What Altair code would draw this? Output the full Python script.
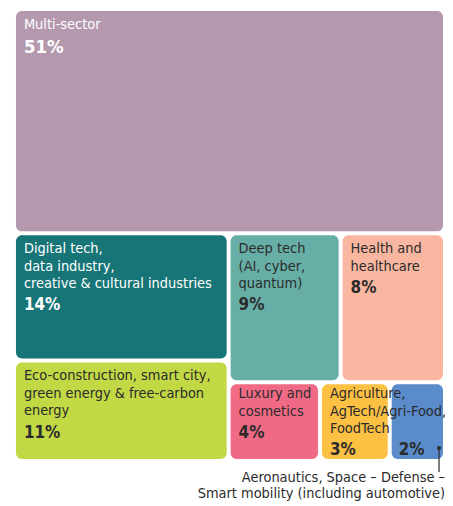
import altair as alt
import pandas as pd

# ---- data -------------------------------------------------------------
sectors = ["Multi-sector", "Digital tech", "Eco-construction", "Deep tech",
           "Health", "Luxury", "Agriculture", "Aeronautics"]
labels = [
    "Multi-sector",
    "Digital tech,\ndata industry,\ncreative & cultural industries",
    "Eco-construction, smart city,\ngreen energy & free-carbon\nenergy",
    "Deep tech\n(AI, cyber,\nquantum)",
    "Health and\nhealthcare",
    "Luxury and\ncosmetics",
    "Agriculture,\nAgTech/Agri-Food,\nFoodTech",
    "",
]
callout = "Aeronautics, Space \u2013 Defense \u2013\nSmart mobility (including automotive)"
shares = [51, 14, 11, 9, 8, 4, 3, 2]                    # labelled percentages
area = [51, 14.4, 11.4, 8.8, 8.2, 3.8, 2.9, 2.3]        # estimated unrounded shares (tile sizes)
colors = ["#b499ae", "#177577", "#c2d845", "#67aea6",
          "#f9b6a1", "#f06a85", "#fcc043", "#5a8bcb"]
light_text = ["Multi-sector", "Digital tech"]

# treemap structure: v = stacked top-to-bottom, h = side by side
structure = ("v", [0, ("h", [("v", [1, 2]),
                             ("v", [("h", [3, 4]), ("h", [5, 6, 7])])])])


def total(node):
    if isinstance(node, int):
        return area[node]
    return sum(total(k) for k in node[1])


def place(node, x0, y0, x1, y1, out):
    if isinstance(node, int):
        out[node] = (x0, y0, x1, y1)
        return
    direction, kids = node
    t = total(node)
    pos = y0 if direction == "v" else x0
    for k in kids:
        f = total(k) / t
        if direction == "v":
            step = f * (y1 - y0)
            place(k, x0, pos, x1, pos + step, out)
        else:
            step = f * (x1 - x0)
            place(k, pos, y0, pos + step, y1, out)
        pos += step


rects = {}
place(structure, 0.0, 0.0, 1.0, 1.0, rects)

df = pd.DataFrame({
    "sector": sectors,
    "label": labels,
    "share": shares,
    "x0": [rects[i][0] for i in range(len(sectors))],
    "y0": [rects[i][1] for i in range(len(sectors))],
    "x1": [rects[i][2] for i in range(len(sectors))],
    "y1": [rects[i][3] for i in range(len(sectors))],
})
df["nlines"] = [0 if s == "" else s.count("\n") + 1 for s in labels]
df["pct"] = [f"{v}%" for v in shares]

FONT = "DejaVu Sans Condensed, sans-serif"
DARK = "#2b2b2b"
PLOT_W, PLOT_H = 433, 454
LINE_H = 17.5

sx = alt.Scale(domain=[0, 1], nice=False, zero=False)
sy = alt.Scale(domain=[0, 1], nice=False, zero=False, reverse=True)

base = alt.Chart(df)

tiles = base.mark_rect(cornerRadius=6, xOffset=2, x2Offset=-2, yOffset=2, y2Offset=-2).encode(
    x=alt.X("x0:Q", scale=sx, axis=None), x2="x1:Q",
    y=alt.Y("y0:Q", scale=sy, axis=None), y2="y1:Q",
    color=alt.Color("sector:N", scale=alt.Scale(domain=sectors, range=colors), legend=None),
)

txt_color = alt.condition(alt.FieldOneOfPredicate(field="sector", oneOf=light_text),
                          alt.value("white"), alt.value(DARK))

# text anchors inside each tile (padding smaller in the short tiles)
with_pos = base.transform_filter("datum.nlines > 0").transform_calculate(
    pad="(datum.y1 - datum.y0) * %d < 80 ? 5 : 9" % PLOT_H
).transform_calculate(
    ly="datum.y0 + datum.pad / %d" % PLOT_H,
    py="datum.y0 + (datum.pad + datum.nlines * %s + 3) / %d" % (LINE_H, PLOT_H),
    fs="datum.share >= 50 ? 18.5 : 17",
)

names = with_pos.mark_text(
    align="left", baseline="top", dx=10, lineBreak="\n", font=FONT,
    fontSize=14.5, lineHeight=LINE_H,
).encode(
    x=alt.X("x0:Q", scale=sx, axis=None), y=alt.Y("ly:Q", scale=sy, axis=None),
    text="label:N", color=txt_color,
)

pcts = with_pos.mark_text(
    align="left", baseline="top", dx=10, font=FONT, fontWeight="bold",
).encode(
    x=alt.X("x0:Q", scale=sx, axis=None), y=alt.Y("py:Q", scale=sy, axis=None),
    text="pct:N", color=txt_color,
    size=alt.Size("fs:Q", scale=None, legend=None),
)

# percentage of the tile whose name sits outside (bottom-anchored)
pct_bottom = base.transform_filter("datum.nlines == 0").mark_text(
    align="left", baseline="alphabetic", dx=9, dy=-6, font=FONT, fontWeight="bold", fontSize=17,
).encode(
    x=alt.X("x0:Q", scale=sx, axis=None), y=alt.Y("y1:Q", scale=sy, axis=None),
    text="pct:N", color=alt.value(DARK),
)

callout_df = df[df["nlines"] == 0].assign(callout=callout)
cbase = alt.Chart(callout_df)
cx = alt.X("x1:Q", scale=sx, axis=None)
cy = alt.Y("y1:Q", scale=sy, axis=None)

dot = cbase.mark_point(filled=True, size=18, opacity=1, color=DARK, xOffset=-6, yOffset=-13).encode(
    x=cx, y=cy)
leader = cbase.mark_rule(color=DARK, strokeWidth=1.2, xOffset=-6, yOffset=-13, y2Offset=11).encode(
    x=cx, y=cy, y2="y1:Q")
ctext = cbase.mark_text(align="right", baseline="top", dx=0, dy=10, lineBreak="\n",
                        font=FONT, fontSize=14.5, lineHeight=16, color=DARK).encode(
    x=cx, y=cy, text="callout:N")

chart = alt.layer(tiles, names, pcts, pct_bottom, leader, dot, ctext).properties(
    width=PLOT_W, height=PLOT_H,
    autosize=alt.AutoSizeParams(type="none"),
    padding={"left": 6, "top": 0, "right": 0, "bottom": 43},
).configure_view(stroke=None)

chart.save("out.html", embed_options={"renderer": "svg", "actions": False})
